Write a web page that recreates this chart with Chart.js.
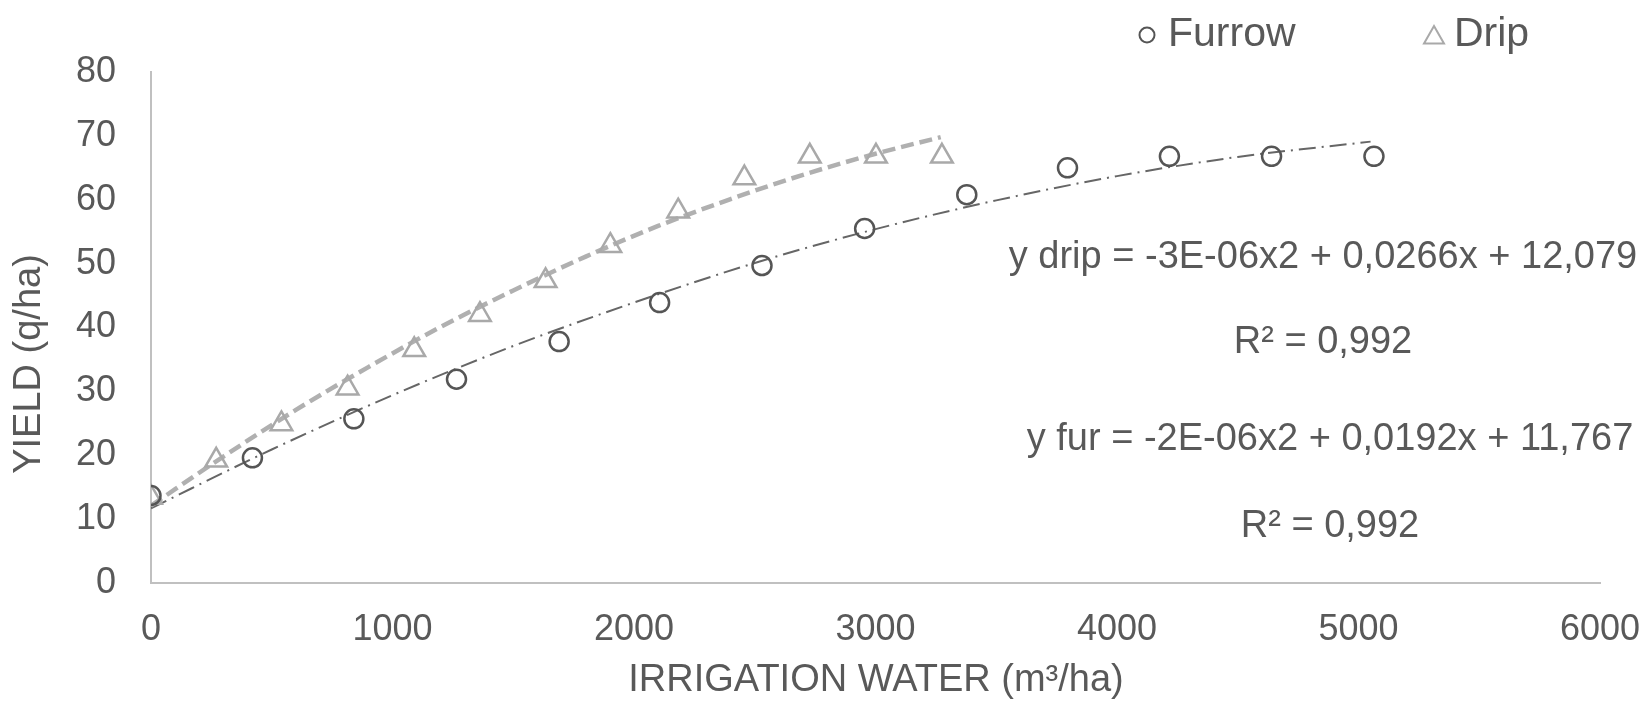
<!DOCTYPE html>
<html>
<head>
<meta charset="utf-8">
<script src="https://cdn.jsdelivr.net/npm/chart.js@4/dist/chart.umd.min.js"></script>
<style>
  html, body { margin: 0; padding: 0; background: #ffffff; }
  #wrap { width: 1646px; height: 704px; position: relative; }
</style>
</head>
<body>
<div id="wrap"><canvas id="c" width="1646" height="704"></canvas></div>
<script>
// ---- data ----
const furrowX = [0, 420, 840, 1265, 1690, 2106, 2530, 2955, 3378, 3795, 4217, 4640, 5064];
const furrowY = [13.7, 19.6, 25.7, 31.9, 37.8, 43.9, 49.7, 55.5, 60.8, 65.0, 66.8, 66.8, 66.8];
const dripX = [0, 270, 540, 814, 1090, 1362, 1634, 1902, 2183, 2457, 2728, 3002, 3275];
const dripY = [13.4, 19.2, 24.9, 30.5, 36.5, 42.0, 47.3, 52.8, 58.2, 63.4, 66.8, 66.8, 66.8];
// trend lines as traced on the picture
const dripTrendX = [0, 300, 600, 900, 1200, 1500, 1800, 2100, 2400, 2700, 3000, 3270];
const dripTrendY = [12.1, 19.8, 27.1, 33.8, 40.1, 45.8, 51.1, 55.9, 60.1, 63.9, 67.2, 69.8];
const furTrendX = [0, 500, 1000, 1500, 2000, 2500, 3000, 3500, 4000, 4500, 5050];
const furTrendY = [11.7, 20.9, 29.4, 37.1, 43.9, 50.1, 55.4, 59.9, 63.7, 66.7, 69.1];
const xTicks = [0, 1000, 2000, 3000, 4000, 5000, 6000];
const yTicks = [0, 10, 20, 30, 40, 50, 60, 70, 80];
const seriesNames = ['Furrow', 'Drip'];
const equations = [
  'y drip = -3E-06x2 + 0,0266x + 12,079',
  'R² = 0,992',
  'y fur = -2E-06x2 + 0,0192x + 11,767',
  'R² = 0,992'
];
const xTitle = 'IRRIGATION WATER (m³/ha)';
const yTitle = 'YIELD (q/ha)';

const FONT = '"Liberation Sans", Arial, sans-serif';
const TXT = '#595959';
const DARK = '#555555';
const LIGHT = '#a9a9a9';

const pts = (xs, ys) => xs.map((x, i) => ({ x: x, y: ys[i] }));

const extras = {
  id: 'extras',
  afterDraw(chart) {
    const ctx = chart.ctx;
    ctx.save();
    ctx.fillStyle = TXT;
    // equations
    ctx.font = '38px ' + FONT;
    ctx.textAlign = 'center';
    ctx.textBaseline = 'middle';
    ctx.fillText(equations[0], 1323, 258);
    ctx.fillText(equations[1], 1323, 343);
    ctx.fillText(equations[2], 1330, 440);
    ctx.fillText(equations[3], 1330, 527);
    // x title
    ctx.font = '38px ' + FONT;
    ctx.fillText(xTitle, 876, 681);
    // y title (rotated)
    ctx.save();
    ctx.translate(30, 364);
    ctx.rotate(-Math.PI / 2);
    ctx.font = '38px ' + FONT;
    ctx.fillText(yTitle, 0, 0);
    ctx.restore();
    // legend
    ctx.lineWidth = 2;
    ctx.strokeStyle = DARK;
    ctx.beginPath();
    ctx.arc(1147, 35, 7.5, 0, Math.PI * 2);
    ctx.stroke();
    ctx.strokeStyle = LIGHT;
    ctx.beginPath();
    ctx.moveTo(1434, 26);
    ctx.lineTo(1444, 43.5);
    ctx.lineTo(1424, 43.5);
    ctx.closePath();
    ctx.stroke();
    ctx.font = '41px ' + FONT;
    ctx.textAlign = 'left';
    ctx.textBaseline = 'alphabetic';
    ctx.fillStyle = TXT;
    ctx.fillText(seriesNames[0], 1168, 46);
    ctx.fillText(seriesNames[1], 1454, 46);
    ctx.restore();
  }
};

new Chart(document.getElementById('c'), {
  type: 'scatter',
  data: {
    datasets: [
      {
        label: seriesNames[0],
        data: pts(furrowX, furrowY),
        pointStyle: 'circle',
        pointRadius: 9.5,
        pointBorderWidth: 2.5,
        pointBorderColor: DARK,
        pointBackgroundColor: 'rgba(0,0,0,0)',
        showLine: false,
        order: 1
      },
      {
        label: seriesNames[1],
        data: pts(dripX, dripY),
        pointStyle: 'triangle',
        pointRadius: 12.5,
        pointBorderWidth: 2.5,
        pointBorderColor: LIGHT,
        pointBackgroundColor: 'rgba(0,0,0,0)',
        showLine: false,
        order: 2
      },
      {
        label: 'drip trend',
        data: pts(dripTrendX, dripTrendY),
        showLine: true,
        pointRadius: 0,
        borderColor: '#b0b0b0',
        borderWidth: 4.5,
        borderDash: [13, 6],
        cubicInterpolationMode: 'monotone',
        fill: false,
        order: 3
      },
      {
        label: 'furrow trend',
        data: pts(furTrendX, furTrendY),
        showLine: true,
        pointRadius: 0,
        borderColor: '#666666',
        borderWidth: 2,
        borderDash: [17, 6, 2, 6],
        cubicInterpolationMode: 'monotone',
        fill: false,
        order: 4
      }
    ]
  },
  options: {
    responsive: false,
    animation: false,
    devicePixelRatio: 1,
    layout: { padding: { top: 72, right: 46, left: 0, bottom: 0 } },
    plugins: { legend: { display: false }, tooltip: { enabled: false } },
    scales: {
      x: {
        type: 'linear',
        min: xTicks[0],
        max: xTicks[xTicks.length - 1],
        afterFit: s => { s.height = 121; s.paddingRight = 0; s.paddingLeft = 0; },
        afterBuildTicks: s => { s.ticks = xTicks.map(v => ({ value: v })); },
        grid: { display: false, drawTicks: false },
        border: { display: true, color: '#c0c0c0', width: 2 },
        ticks: {
          color: TXT,
          font: { family: FONT, size: 36 },
          padding: 25,
          maxRotation: 0,
          autoSkip: false,
          callback: v => String(v)
        }
      },
      y: {
        type: 'linear',
        min: yTicks[0],
        max: yTicks[yTicks.length - 1],
        afterFit: s => { s.width = 151; s.paddingTop = 0; s.paddingBottom = 0; },
        afterBuildTicks: s => { s.ticks = yTicks.map(v => ({ value: v })); },
        grid: { display: false, drawTicks: false },
        border: { display: true, color: '#c0c0c0', width: 2 },
        ticks: {
          color: TXT,
          font: { family: FONT, size: 36 },
          padding: 35,
          autoSkip: false,
          callback: v => String(v)
        }
      }
    }
  },
  plugins: [extras]
});
</script>
</body>
</html>
